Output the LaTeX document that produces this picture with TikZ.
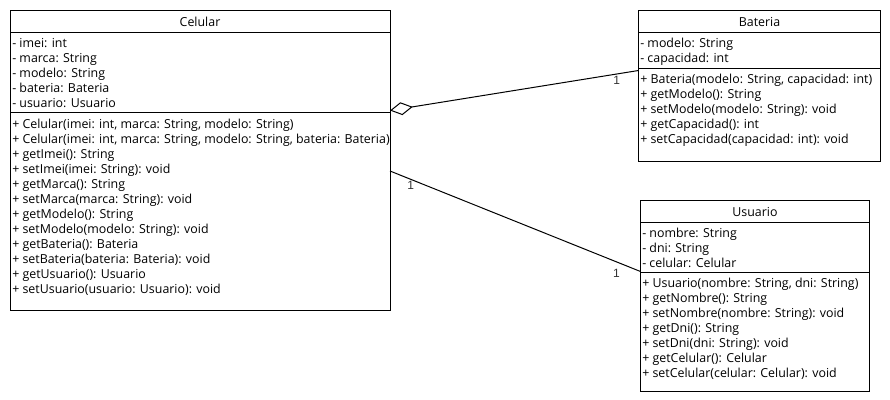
\documentclass[tikz,border=0pt]{standalone}
\usepackage{fontspec}
\setmainfont{Open Sans}
\newfontfamily\labelfont{Liberation Sans}
\usetikzlibrary{arrows.meta,calc}
\begin{document}
\begin{tikzpicture}[x=0.75pt,y=-0.75pt,
  box/.style={draw, line width=0.75pt, inner sep=0pt, outer sep=0pt, anchor=north west},
  sep/.style={line width=0.75pt},
  txt/.style={anchor=base west, inner sep=0pt, font=\fontsize{9.3}{10}\selectfont},
  ttl/.style={anchor=base, inner sep=0pt, font=\fontsize{9.3}{10}\selectfont},
  mult/.style={inner sep=0pt, font=\labelfont\fontsize{9}{9}\selectfont, text=black!80},
  conn/.style={line width=0.75pt}]
\useasboundingbox (0,0) rectangle (890,400);
% ---------- Celular ----------
\node[box, minimum width=284.625pt, minimum height=225pt] (celular) at (10.5,10.5) {};
\draw[sep] (10.5,32.5) -- (390,32.5);
\draw[sep] (10.5,112.5) -- (390,112.5);
\node[ttl] (celular-t) at (200,26.8) {Celular};
\foreach \t [count=\i from 0] in {{- imei: int},{- marca: String},{- modelo: String},{- bateria: Bateria},{- usuario: Usuario}}
  \node[txt] (cel-a\i) at (12,47.3+15*\i) {\t};
\foreach \t [count=\i from 0] in {{+ Celular(imei: int, marca: String, modelo: String)},{+ Celular(imei: int, marca: String, modelo: String, bateria: Bateria)},{+ getImei(): String},{+ setImei(imei: String): void},{+ getMarca(): String},{+ setMarca(marca: String): void},{+ getModelo(): String},{+ setModelo(modelo: String): void},{+ getBateria(): Bateria},{+ setBateria(bateria: Bateria): void},{+ getUsuario(): Usuario},{+ setUsuario(usuario: Usuario): void}}
  \node[txt] (cel-m\i) at (12,128+15*\i) {\t};
% ---------- Bateria ----------
\node[box, minimum width=181.5pt, minimum height=112.875pt] (bateria) at (638.5,10.5) {};
\draw[sep] (638.5,32.5) -- (880.5,32.5);
\draw[sep] (638.5,68.5) -- (880.5,68.5);
\node[ttl] (bateria-t) at (759.5,26.8) {Bateria};
\foreach \t [count=\i from 0] in {{- modelo: String},{- capacidad: int}}
  \node[txt] (bat-a\i) at (640,47.3+15*\i) {\t};
\foreach \t [count=\i from 0] in {{+ Bateria(modelo: String, capacidad: int)},{+ getModelo(): String},{+ setModelo(modelo: String): void},{+ getCapacidad(): int},{+ setCapacidad(capacidad: int): void}}
  \node[txt] (bat-m\i) at (640,83.5+15*\i) {\t};
% ---------- Usuario ----------
\node[box, minimum width=171.75pt, minimum height=143.25pt] (usuario) at (640.5,200.5) {};
\draw[sep] (640.5,222.5) -- (869.5,222.5);
\draw[sep] (640.5,272) -- (869.5,272);
\node[ttl] (usuario-t) at (755,216.8) {Usuario};
\foreach \t [count=\i from 0] in {{- nombre: String},{- dni: String},{- celular: Celular}}
  \node[txt] (usu-a\i) at (642,237.3+15*\i) {\t};
\foreach \t [count=\i from 0] in {{+ Usuario(nombre: String, dni: String)},{+ getNombre(): String},{+ setNombre(nombre: String): void},{+ getDni(): String},{+ setDni(dni: String): void},{+ getCelular(): Celular},{+ setCelular(celular: Celular): void}}
  \node[txt] (usu-m\i) at (642,287.7+15*\i) {\t};
% ---------- connectors ----------
\coordinate (agg-s) at ($(celular.north east)+(0,100)$);
\coordinate (agg-e) at ($(bateria.north west)+(0,60)$);
\draw[conn, {Diamond[open, length=17.25pt, width=9.75pt, line width=0.75pt]}-] (agg-s) -- (agg-e);
\coordinate (as-s) at ($(celular.north east)+(0,160.5)$);
\coordinate (as-e) at ($(usuario.north west)+(0,71)$);
\draw[conn] (as-s) -- (as-e);
\node[mult] (m-bat) at (616.7,80.7) {1};
\node[mult] (m-cel) at (410.7,185) {1};
\node[mult] (m-usu) at (616.5,273.5) {1};
\end{tikzpicture}
\end{document}
